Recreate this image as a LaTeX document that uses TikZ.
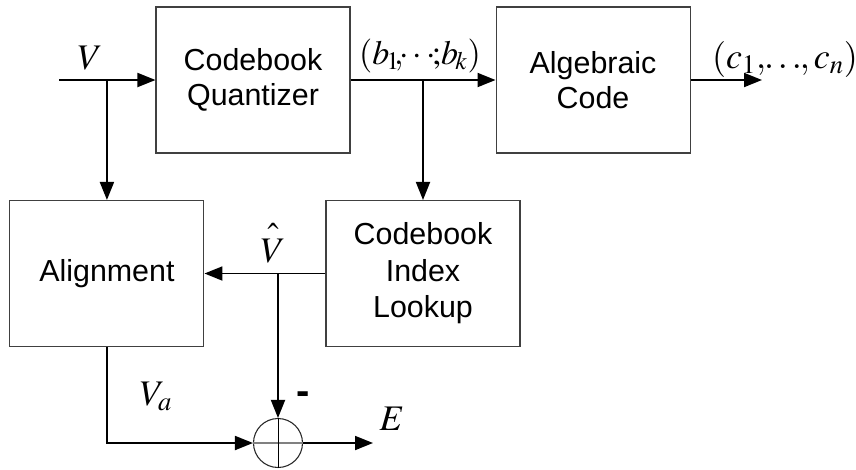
\documentclass[tikz,border=0pt]{standalone}
\usepackage{mathptmx}
\usepackage{fontspec}
\setsansfont{Liberation Sans}
\usetikzlibrary{
  	positioning,
  	arrows.meta
  }

\begin{document}
\begin{tikzpicture}[x=.75pt, y=-.75pt,
	blk/.style={draw=black!75, line width=.8pt, minimum width=145.5pt, minimum height=109.5pt, align=center, font=\sffamily\fontsize{22.8}{26.3}\selectfont},
	lab/.style={font=\fontsize{27}{30}\selectfont, inner sep=0pt, anchor=base},
	sig/.style={line width=1.4pt, -{Triangle[length=13.5pt, width=10.5pt]}}]
	\useasboundingbox (0,0) rectangle (856,469);
	\node[blk] (Q) at (253,80) {Codebook\\Quantizer};
	\node[blk, right=108.75pt of Q] (AC) {Algebraic\\Code};
	\node[blk, font=\sffamily\fontsize{22.8}{27.4}\selectfont] (LU) at (423,273.5) {Codebook\\Index\\Lookup};
	\node[blk, left=90.75pt of LU] (AL) {Alignment};
	\node[circle, draw=black!85, line width=.8pt, minimum size=36.75pt, inner sep=0pt] (S) at (278,443) {};
	\draw[gray, line width=1.2pt] (S.west) -- (S.east);
	\draw[line width=.7pt] (S.north) -- (S.south);
%
	\coordinate (in) at (59,80);
	\coordinate (out) at (762,80);
	\coordinate (eout) at (373,443);
	\coordinate (bV) at (AL.north |- Q.west);
	\coordinate (bB) at (LU.north |- Q.east);
	\coordinate (bH) at (S.north |- LU.west);
%
	\draw[sig] (in) -- (Q.west);
	\draw[sig] (bV) -- (AL.north);
	\draw[sig] (Q.east) -- (AC.west);
	\draw[sig] (bB) -- (LU.north);
	\draw[sig] (AC.east) -- (out);
	\draw[sig] (LU.west) -- (AL.east);
	\draw[sig] (bH) -- (S.north);
	\draw[sig] (AL.south) |- (S.west);
	\draw[sig] (S.east) -- (eout);
%
	\node[lab] (Vin) at (90,69) {$V$};
	\node[lab, font=\fontsize{25.5}{30}\selectfont] (bvec) at (420,64) {$(b_{\!1}\mkern-3mu,\mkern-4mu\cdots\mkern-4mu;\mkern-2mu b_{\!k})$};
	\node[lab] (cvec) at (785,68) {$(c_1,\mkern-3mu\ldots\mkern-3mu,c_n)$};
	\node[lab] (Vhat) at (273,262) {$\hat{\vphantom{\big(}V}$};
	\node[lab] (Va) at (156,405) {$V_a$};
	\node[font=\sffamily\bfseries\fontsize{30}{30}\selectfont, inner sep=0pt] (minus) at (303,398) {-};
	\node[lab] (Eout) at (392,430) {$E$};
\end{tikzpicture}
\end{document}
